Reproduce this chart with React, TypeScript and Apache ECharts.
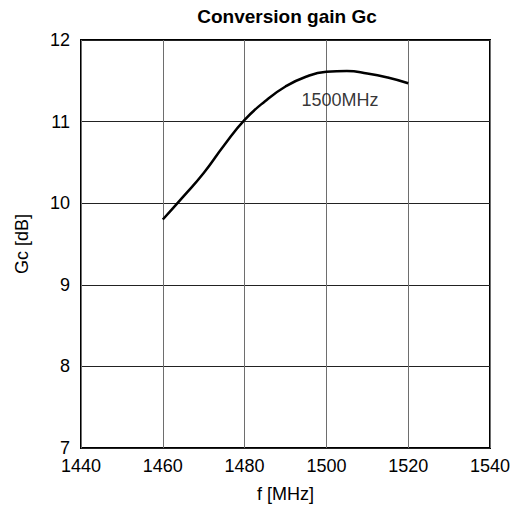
import React, { useEffect, useRef } from "react";
import * as echarts from "echarts";

const freqs = [1460, 1465, 1470, 1475, 1480, 1485, 1490, 1495, 1500, 1505, 1510, 1515, 1520];
const gain = [9.8, 10.08, 10.37, 10.71, 11.02, 11.25, 11.43, 11.55, 11.61, 11.62, 11.59, 11.54, 11.47];
const curveLabel = "1500MHz";
const curveLabelPos = [1503.3, 11.27];
const xTicks = [1440, 1460, 1480, 1500, 1520, 1540];
const yTicks = [7, 8, 9, 10, 11, 12];

const FONT = "'Liberation Sans', Arial, sans-serif";

export default function App() {
  const ref = useRef<HTMLDivElement>(null);
  useEffect(() => {
    if (!ref.current) return;
    const chart = echarts.init(ref.current, undefined, { renderer: "svg" });
    chart.setOption({
      animation: false,
      backgroundColor: "#ffffff",
      title: {
        text: "Conversion gain Gc",
        left: 282,
        textAlign: "center",
        top: 2,
        textStyle: { fontFamily: FONT, fontSize: 19, fontWeight: "bold", color: "#000" },
      },
      grid: {
        left: 81,
        right: 30,
        top: 40,
        bottom: 67,
        show: true,
        borderColor: "#000",
        borderWidth: 2,
        containLabel: false,
      },
      xAxis: {
        type: "value",
        min: xTicks[0],
        max: xTicks[xTicks.length - 1],
        interval: 20,
        name: "f [MHz]",
        nameLocation: "middle",
        nameGap: 37,
        nameTextStyle: { fontFamily: FONT, fontSize: 18, color: "#000" },
        axisLine: { show: false },
        axisTick: { show: false },
        axisLabel: {
          fontFamily: FONT,
          fontSize: 18,
          color: "#000",
          margin: 9,
          formatter: (v: number) => String(v),
        },
        splitLine: { show: true, lineStyle: { color: "#6e6e6e", width: 1 } },
      },
      yAxis: {
        type: "value",
        min: yTicks[0],
        max: yTicks[yTicks.length - 1],
        interval: 1,
        name: "Gc [dB]",
        nameLocation: "middle",
        nameGap: 50,
        nameTextStyle: { fontFamily: FONT, fontSize: 18, color: "#000" },
        axisLine: { show: false },
        axisTick: { show: false },
        axisLabel: {
          fontFamily: FONT,
          fontSize: 18,
          color: "#000",
          margin: 11,
          formatter: (v: number) => String(v),
        },
        splitLine: { show: true, lineStyle: { color: "#222", width: 1 } },
      },
      series: [
        {
          type: "line",
          data: freqs.map((f, i) => [f, gain[i]]),
          smooth: true,
          showSymbol: false,
          lineStyle: { color: "#000", width: 2.5 },
          z: 5,
        },
        {
          type: "scatter",
          data: [curveLabelPos],
          symbolSize: 0,
          silent: true,
          label: {
            show: true,
            position: "inside",
            formatter: curveLabel,
            fontFamily: FONT,
            fontSize: 18,
            color: "#000",
          },
          z: 6,
        },
      ],
    });
    return () => chart.dispose();
  }, []);
  return (
    <div
      ref={ref}
      style={{ position: "fixed", left: 0, top: 0, width: 520, height: 515 }}
    />
  );
}
